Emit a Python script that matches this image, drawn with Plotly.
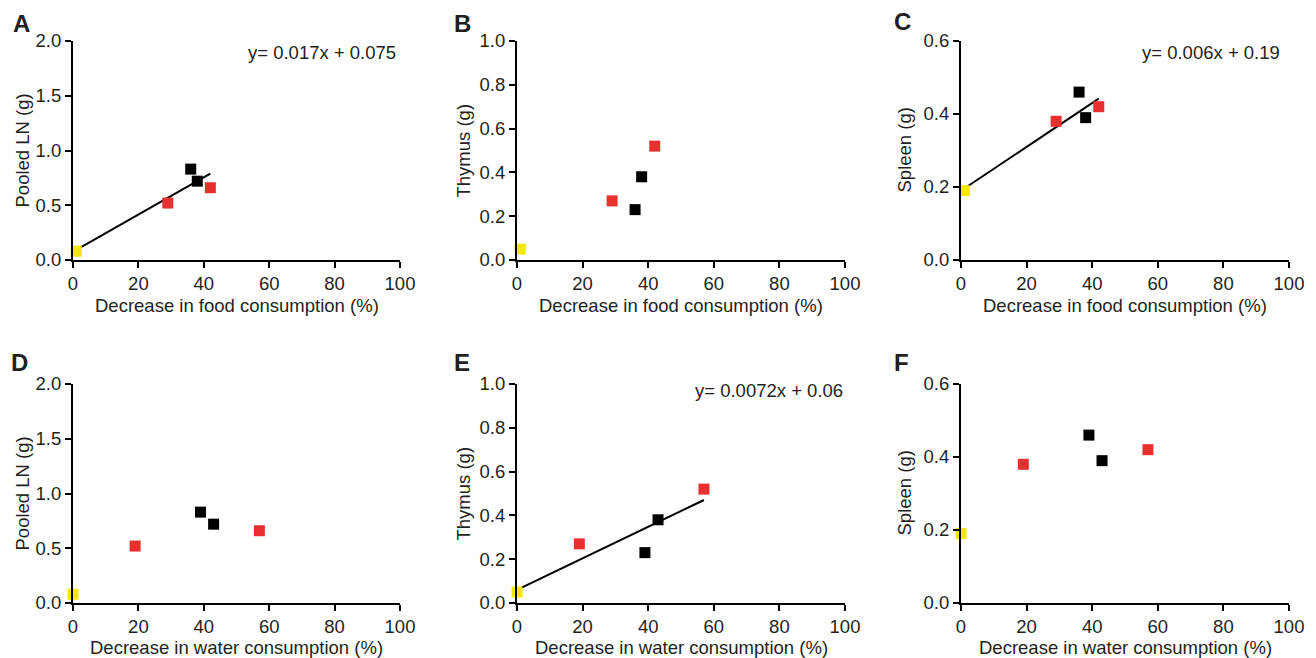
import plotly.graph_objects as go

# ---- data ----
food_x = {"yellow": [1], "red": [29, 42], "black": [36, 38]}
water_x = {"yellow": [0], "red": [19, 57], "black": [39, 43]}
ln_g = {"yellow": [0.08], "red": [0.52, 0.66], "black": [0.83, 0.72]}
thymus_g = {"yellow": [0.05], "red": [0.27, 0.52], "black": [0.23, 0.38]}
spleen_g = {"yellow": [0.19], "red": [0.38, 0.42], "black": [0.46, 0.39]}

x_ticks = [0, 20, 40, 60, 80, 100]
ln_ticks = [0.0, 0.5, 1.0, 1.5, 2.0]
thymus_ticks = [0.0, 0.2, 0.4, 0.6, 0.8, 1.0]
spleen_ticks = [0.0, 0.2, 0.4, 0.6]

# regression fits: (slope, intercept, x_start, x_end, label)
fit_A = (0.017, 0.075, 1, 42, "y= 0.017x + 0.075")
fit_C = (0.006, 0.19, 1, 42, "y= 0.006x + 0.19")
fit_E = (0.0072, 0.06, 0, 57, "y= 0.0072x + 0.06")

colors = {"yellow": "#f5e800", "red": "#e8302e", "black": "#000000"}
TXT = "#231f20"
FONT = "Liberation Sans, Arial, Helvetica, sans-serif"
FS = 18.5

panels = [
    ("A", food_x, ln_g, "Pooled LN (g)", ln_ticks, 2.0, "Decrease in food consumption (%)", fit_A),
    ("B", food_x, thymus_g, "Thymus (g)", thymus_ticks, 1.0, "Decrease in food consumption (%)", None),
    ("C", food_x, spleen_g, "Spleen (g)", spleen_ticks, 0.6, "Decrease in food consumption (%)", fit_C),
    ("D", water_x, ln_g, "Pooled LN (g)", ln_ticks, 2.0, "Decrease in water consumption (%)", None),
    ("E", water_x, thymus_g, "Thymus (g)", thymus_ticks, 1.0, "Decrease in water consumption (%)", fit_E),
    ("F", water_x, spleen_g, "Spleen (g)", spleen_ticks, 0.6, "Decrease in water consumption (%)", None),
]

# page body has an 8px margin; lay out in window pixels and shift
OFF = 8
W, H = 1316 - 2 * OFF, 658 - OFF
col_px = [(73, 400), (517, 845), (961, 1289)]
row_px = [(41, 260), (384, 603)]
xtitle_y = [305, 647]
ytitle_x = [22, 463, 904]
letter_px = [(11, 23), (452, 23), (892, 22), (9, 362), (452, 363), (892, 362)]
eq_pos = {"A": (398, 53), "C": (1282, 52), "E": (845, 390)}


def px_x(v):
    return (v - OFF) / W


def px_y(v):
    return 1 - (v - OFF) / H


fig = go.Figure()
annotations = []

for i, (letter, xd, yd, ytitle, yticks, ymax, xtitle, fit) in enumerate(panels):
    r, c = divmod(i, 3)
    n = i + 1
    xa = "x" if n == 1 else f"x{n}"
    ya = "y" if n == 1 else f"y{n}"
    xkey = "xaxis" if n == 1 else f"xaxis{n}"
    ykey = "yaxis" if n == 1 else f"yaxis{n}"
    x0, x1 = col_px[c]
    y0, y1 = row_px[r]

    if fit is not None:
        m, b, xs, xe, label = fit
        fx = [xs, xe]
        fy = [m * v + b for v in fx]
        fig.add_trace(go.Scatter(x=fx, y=fy, mode="lines", xaxis=xa, yaxis=ya,
                                 line=dict(color="#000", width=2), showlegend=False,
                                 hoverinfo="skip", cliponaxis=False))
        ex, ey = eq_pos[letter]
        annotations.append(dict(text=label, xref="paper", yref="paper",
                                x=px_x(ex), y=px_y(ey), xanchor="right", yanchor="middle",
                                showarrow=False, font=dict(size=FS, color=TXT, family=FONT)))

    for grp in ["yellow", "red", "black"]:
        fig.add_trace(go.Scatter(x=xd[grp], y=yd[grp], mode="markers", xaxis=xa, yaxis=ya,
                                 marker=dict(symbol="square", size=11, color=colors[grp],
                                             line=dict(width=0)),
                                 showlegend=False, cliponaxis=False))

    fig.update_layout({
        xkey: dict(domain=[px_x(x0), px_x(x1)], anchor=ya, range=[0, 100],
                   tickvals=x_ticks, ticktext=[str(v) for v in x_ticks],
                   showline=True, linecolor="#000", linewidth=2, ticks="outside",
                   ticklen=6, tickwidth=2, tickcolor="#000", showgrid=False, zeroline=False,
                   tickfont=dict(size=FS, color=TXT, family=FONT), automargin=False),
        ykey: dict(domain=[px_y(y1), px_y(y0)], anchor=xa, range=[0, ymax],
                   tickvals=yticks, ticktext=[f"{v:.1f}" for v in yticks],
                   showline=True, linecolor="#000", linewidth=2, ticks="outside",
                   ticklen=6, tickwidth=2, tickcolor="#000", showgrid=False, zeroline=False,
                   tickfont=dict(size=FS, color=TXT, family=FONT), automargin=False),
    })

    # axis titles
    annotations.append(dict(text=xtitle, xref="paper", yref="paper",
                            x=px_x((x0 + x1) / 2), y=px_y(xtitle_y[r]),
                            xanchor="center", yanchor="middle", showarrow=False,
                            font=dict(size=FS, color=TXT, family=FONT)))
    annotations.append(dict(text=ytitle, xref="paper", yref="paper", textangle=-90,
                            x=px_x(ytitle_x[c]), y=px_y((y0 + y1) / 2),
                            xanchor="center", yanchor="middle", showarrow=False,
                            font=dict(size=FS, color=TXT, family=FONT)))

    lx, ly = letter_px[i]
    annotations.append(dict(text=f"<b>{letter}</b>", xref="paper", yref="paper",
                            x=px_x(lx), y=px_y(ly), xanchor="left", yanchor="middle",
                            showarrow=False, font=dict(size=24, color=TXT, family=FONT)))

fig.update_layout(width=W, height=H, margin=dict(l=0, r=0, t=0, b=0),
                  paper_bgcolor="white", plot_bgcolor="white",
                  annotations=annotations, showlegend=False)

fig.write_html("out.html")
